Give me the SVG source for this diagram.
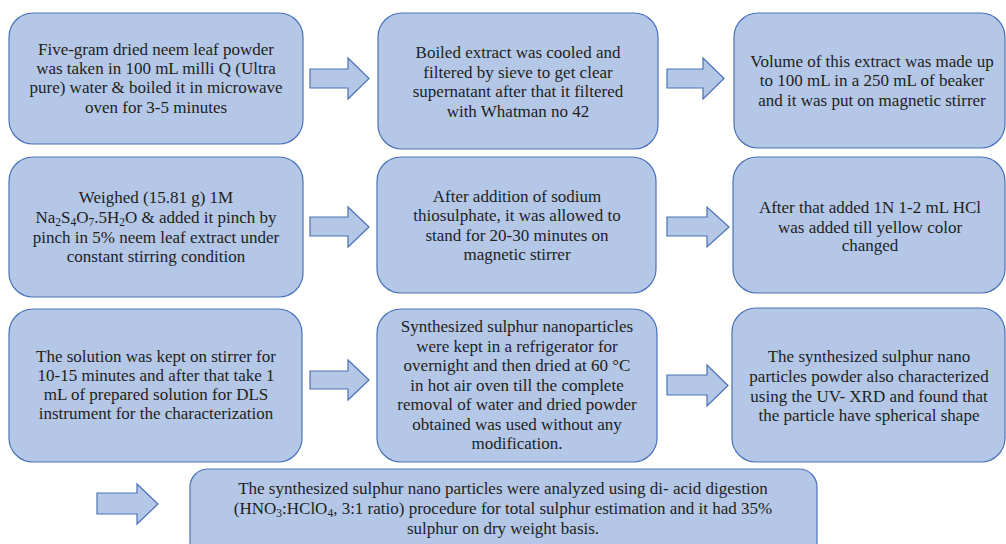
<svg xmlns="http://www.w3.org/2000/svg" width="1006" height="544" viewBox="0 0 1006 544">
<style>
.box{fill:#b4c7e7;stroke:#4a72b8;stroke-width:1.2}
.arr{fill:#b4c7e7;stroke:#4a72b8;stroke-width:1.2}
text{font-family:"Liberation Serif","Times New Roman",serif;font-size:17px;fill:#1e1e1e;text-anchor:middle}
.sub{font-size:11.5px}
</style>
<rect width="1006" height="544" fill="#ffffff"/>
<g id="n1"><rect class="box" x="9" y="13" width="294" height="131" rx="24"/>
<text x="156" y="55">Five-gram dried neem leaf powder</text>
<text x="156" y="74">was taken in 100 mL milli Q (Ultra</text>
<text x="156" y="93">pure) water &amp; boiled it in microwave</text>
<text x="156" y="113">oven for 3-5 minutes</text></g>
<g id="n2"><rect class="box" x="378" y="13" width="280" height="136" rx="24"/>
<text x="518" y="58">Boiled extract was cooled and</text>
<text x="518" y="78">filtered by sieve to get clear</text>
<text x="518" y="97">supernatant after that it filtered</text>
<text x="518" y="117">with Whatman no 42</text></g>
<g id="n3"><rect class="box" x="734" y="13" width="271" height="135" rx="24"/>
<text x="872" y="67">Volume of this extract was made up</text>
<text x="872" y="86">to 100 mL in a 250 mL of beaker</text>
<text x="872" y="106">and it was put on magnetic stirrer</text></g>
<g id="n4"><rect class="box" x="9" y="157" width="294" height="140" rx="24"/>
<text x="156" y="203">Weighed (15.81 g) 1M</text>
<text x="156" y="223">Na<tspan class="sub" dy="3">2</tspan><tspan dy="-3">S</tspan><tspan class="sub" dy="3">4</tspan><tspan dy="-3">O</tspan><tspan class="sub" dy="3">7</tspan><tspan dy="-3">.5H</tspan><tspan class="sub" dy="3">2</tspan><tspan dy="-3">O &amp; added it pinch by</tspan></text>
<text x="156" y="243">pinch in 5% neem leaf extract under</text>
<text x="156" y="262">constant stirring condition</text></g>
<g id="n5"><rect class="box" x="377" y="157" width="279" height="136" rx="24"/>
<text x="517" y="202">After addition of sodium</text>
<text x="517" y="221">thiosulphate, it was allowed to</text>
<text x="517" y="241">stand for 20-30 minutes on</text>
<text x="517" y="260">magnetic stirrer</text></g>
<g id="n6"><rect class="box" x="733" y="157" width="272" height="136" rx="24"/>
<text x="870" y="213">After that added 1N 1-2 mL HCl</text>
<text x="870" y="233">was added till yellow color</text>
<text x="870" y="251">changed</text></g>
<g id="n7"><rect class="box" x="9" y="309" width="293" height="153" rx="24"/>
<text x="156" y="362">The solution was kept on stirrer for</text>
<text x="156" y="381">10-15 minutes and after that take 1</text>
<text x="156" y="400">mL of prepared solution for DLS</text>
<text x="156" y="419">instrument for the characterization</text></g>
<g id="n8"><rect class="box" x="377" y="309" width="280" height="153" rx="24"/>
<text x="517" y="332">Synthesized sulphur nanoparticles</text>
<text x="517" y="352">were kept in a refrigerator for</text>
<text x="517" y="371">overnight and then dried at 60 °C</text>
<text x="517" y="391">in hot air oven till the complete</text>
<text x="517" y="410">removal of water and dried powder</text>
<text x="517" y="430">obtained was used without any</text>
<text x="517" y="449">modification.</text></g>
<g id="n9"><rect class="box" x="732" y="308" width="273" height="154" rx="24"/>
<text x="869" y="362">The synthesized sulphur nano</text>
<text x="869" y="382">particles powder also characterized</text>
<text x="869" y="402">using the UV- XRD and found that</text>
<text x="869" y="421">the particle have spherical shape</text></g>
<g id="n10"><rect class="box" x="190" y="469" width="627" height="90" rx="18"/>
<text x="503" y="494">The synthesized sulphur nano particles were analyzed using di- acid digestion</text>
<text x="503" y="514">(HNO<tspan class="sub" dy="3">3</tspan><tspan dy="-3">:HClO</tspan><tspan class="sub" dy="3">4</tspan><tspan dy="-3">, 3:1 ratio) procedure for total sulphur estimation and it had 35%</tspan></text>
<text x="503" y="534">sulphur on dry weight basis.</text></g>
<g id="connectors">
<path class="arr" d="M310,69 H348 V58 L369,78.5 L348,99 V88 H310 Z"/>
<path class="arr" d="M667,69 H703 V58 L724,78.5 L703,99 V88 H667 Z"/>
<path class="arr" d="M310,217 H348 V207 L369,227 L348,247 V236 H310 Z"/>
<path class="arr" d="M667,217 H707 V207 L729,227 L707,247 V236 H667 Z"/>
<path class="arr" d="M310,371 H348 V360 L369,380 L348,400 V389 H310 Z"/>
<path class="arr" d="M667,375 H707 V365 L728,385.5 L707,406 V395 H667 Z"/>
<path class="arr" d="M97,493 H137 V484 L158,504 L137,524 V514 H97 Z"/>
</g>
</svg>
